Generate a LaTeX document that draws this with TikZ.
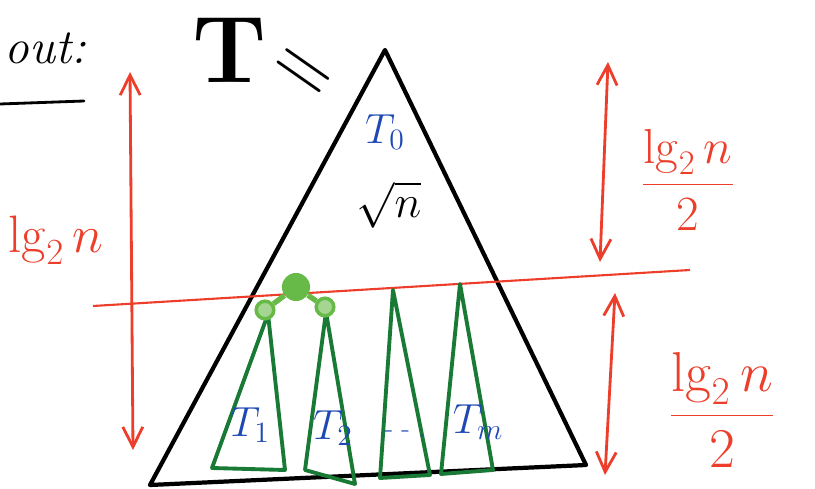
\documentclass[tikz,border=0pt]{standalone}
\usepackage{fix-cm}
\usetikzlibrary{arrows.meta,positioning}

\definecolor{penred}{RGB}{236,62,42}
\definecolor{penblue}{RGB}{30,72,180}
\definecolor{pengreen}{RGB}{24,122,52}
\definecolor{penlime}{RGB}{104,186,72}

\tikzset{
  ink/.style={line width=2.4pt, line cap=round, line join=round},
  redink/.style={ink, penred, line width=1.6pt},
  greenink/.style={ink, pengreen, line width=2.2pt},
  span/.style={redink, {Straight Barb[length=4mm,width=4mm]}-{Straight Barb[length=4mm,width=4mm]}},
  sublabel/.style={text=penblue, inner sep=1pt, font=\fontsize{24}{28}\selectfont},
  redlabel/.style={text=penred, inner sep=1pt, font=\fontsize{28}{32}\selectfont}
}

\begin{document}
\begin{tikzpicture}[x=0.02cm, y=-0.02cm]
  \useasboundingbox (0,0) rectangle (815,489);

  % Heading
  \node[anchor=east, font=\fontsize{28}{32}\selectfont\itshape] (head) at (92,48) {out:};
  \coordinate (ulA) at (0,104);
  \coordinate (ulB) at (84,101);
  \draw[ink, line width=1.6pt] (ulA) -- (ulB);
  \node[inner sep=1pt, font=\fontsize{54}{60}\selectfont\bfseries] (tname) at (230,50) {T};
  \node[inner sep=0pt, rotate=-35, font=\fontsize{48}{52}\selectfont] (teq) at (300,76) {=};

  % Outer tree
  \coordinate (apex) at (385,50);
  \coordinate (bl) at (150,485);
  \coordinate (br) at (586,465);
  \draw[ink] (bl) -- (apex) -- (br) -- cycle;
  \node[sublabel] (t0) at (385,132) {$T_0$};
  \node[inner sep=1pt, font=\fontsize{26}{30}\selectfont] (root) at (389,205) {$\sqrt{n}$};

  % Cut line
  \coordinate (cutA) at (93,306);
  \coordinate (cutB) at (690,270);
  \draw[penred, line width=1.2pt] (cutA) -- (cutB);

  % Height spans
  \coordinate (lTop) at (130,72);
  \coordinate (lBot) at (133,450);
  \draw[span] (lTop) -- (lBot);
  \node[redlabel, font=\fontsize{30}{36}\selectfont] (lh) at (56,240) {$\lg_2 n$};

  \coordinate (rTop) at (608,62);
  \coordinate (rMid) at (600,262);
  \draw[span] (rTop) -- (rMid);
  \node[redlabel] (fracTop) at (688,180) {$\displaystyle\frac{\lg_2 n}{2}$};

  \coordinate (sTop) at (615,293);
  \coordinate (sBot) at (605,475);
  \draw[span] (sTop) -- (sBot);
  \node[redlabel, font=\fontsize{32}{36}\selectfont] (fracBot) at (722,410) {$\displaystyle\frac{\lg_2 n}{2}$};

  % Bottom subtrees
  \draw[greenink] (268,314) -- (212,468) -- (285,470) -- cycle;
  \draw[greenink] (326,312) -- (305,470) -- (355,484) -- cycle;
  \draw[greenink] (393,290) -- (380,478) -- (430,475) -- cycle;
  \draw[greenink] (460,284) -- (441,474) -- (493,470) -- cycle;
  \node[sublabel] (t1) at (250,425) {$T_1$};
  \node[sublabel] (t2) at (333,428) {$T_2$};
  \node[sublabel, font=\fontsize{16}{20}\selectfont] (dots) at (405,434) {- - .};
  \node[sublabel] (tm) at (478,422) {$T_m$};

  % Green root with two children
  \node[circle, fill=penlime, minimum size=16pt, inner sep=0pt] (g) at (296,287) {};
  \node[circle, draw=penlime, line width=2pt, fill=penlime!60, minimum size=10pt, inner sep=0pt] (g1) at (265,310) {};
  \node[circle, draw=penlime, line width=2pt, fill=penlime!60, minimum size=10pt, inner sep=0pt] (g2) at (325,307) {};
  \draw[penlime, line width=3pt] (g) -- (g1);
  \draw[penlime, line width=3pt] (g) -- (g2);

\end{tikzpicture}
\end{document}
